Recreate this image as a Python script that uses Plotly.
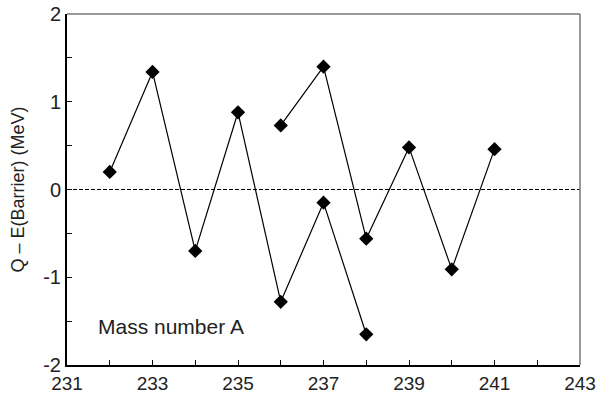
import plotly.graph_objects as go

# Series A (lower/left chain)
mass_a = [232, 233, 234, 235, 236, 237, 238]
q_a = [0.20, 1.34, -0.70, 0.88, -1.28, -0.15, -1.65]
# Series B (upper/right chain)
mass_b = [236, 237, 238, 239, 240, 241]
q_b = [0.73, 1.40, -0.56, 0.48, -0.91, 0.46]

x_ticks = [231, 233, 235, 237, 239, 241, 243]
y_ticks = [-2, -1, 0, 1, 2]

FONT = "Liberation Sans, Arial, sans-serif"

fig = go.Figure()
fig.add_trace(go.Scatter(x=[231, 243], y=[0, 0], mode="lines",
                         line=dict(color="black", width=1, dash="4px,2px"),
                         hoverinfo="skip", showlegend=False))
for xs, ys in [(mass_a, q_a), (mass_b, q_b)]:
    fig.add_trace(go.Scatter(x=xs, y=ys, mode="lines+markers",
                             line=dict(color="black", width=1.2),
                             marker=dict(symbol="diamond", size=11, color="black"),
                             showlegend=False))

fig.add_annotation(x=231.68, y=-1.56, xref="x", yref="y", text="Mass number A",
                   showarrow=False, xanchor="left", yanchor="middle",
                   font=dict(family=FONT, size=21, color="#222"))

# gray top/right frame
fig.add_shape(type="line", xref="paper", yref="paper", x0=0, x1=1, y0=1, y1=1,
              line=dict(color="#777", width=1.5))
fig.add_shape(type="line", xref="paper", yref="paper", x0=1, x1=1, y0=0, y1=1,
              line=dict(color="#777", width=1.5))

fig.update_xaxes(range=[231, 243], tickvals=x_ticks, ticktext=[str(v) for v in x_ticks],
                 ticks="inside", ticklen=5, tickcolor="black", tickwidth=1,
                 minor=dict(dtick=1, tick0=231, ticks="inside", ticklen=5, tickcolor="black"),
                 showline=True, linecolor="black", linewidth=2,
                 showgrid=False, zeroline=False, automargin=False,
                 tickfont=dict(family=FONT, size=19, color="#222"))
fig.update_yaxes(range=[-2, 2], tickvals=y_ticks, ticktext=[str(v) for v in y_ticks],
                 ticks="inside", ticklen=5, tickcolor="black", tickwidth=1,
                 minor=dict(dtick=0.5, tick0=0, ticks="inside", ticklen=5, tickcolor="black"),
                 showline=True, linecolor="black", linewidth=2,
                 showgrid=False, zeroline=False, automargin=False,
                 title=dict(text="Q – E(Barrier) (MeV)", standoff=14,
                            font=dict(family=FONT, size=18, color="#222")),
                 tickfont=dict(family=FONT, size=20, color="#222"))

fig.update_layout(width=598, height=394, margin=dict(l=67, r=18, t=14, b=29),
                  plot_bgcolor="white", paper_bgcolor="white")
fig.write_html("out.html")
